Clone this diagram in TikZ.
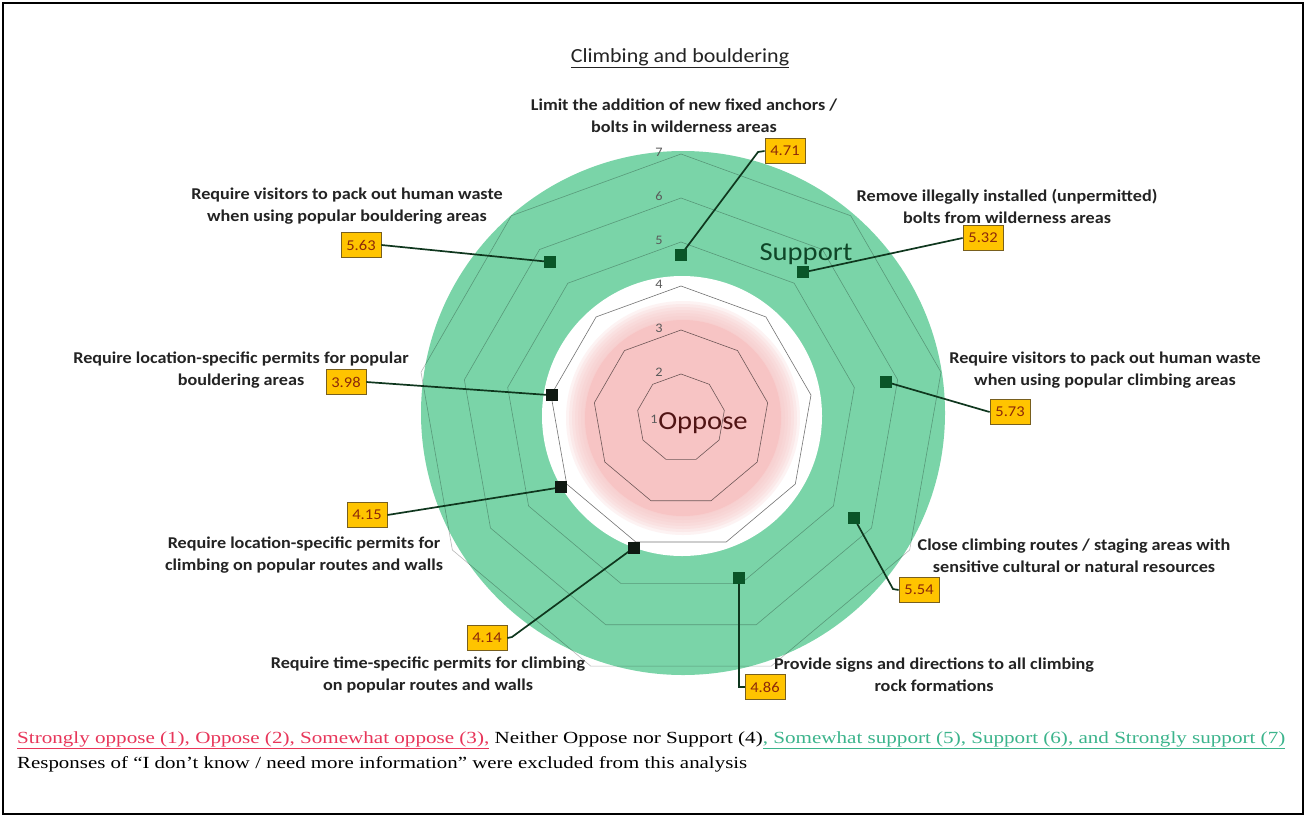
\documentclass[tikz,border=0pt]{standalone}
\usepackage{fontspec}
\usepackage{graphicx}
\setmainfont{Carlito}[FakeStretch=1.1]
\newfontfamily\tnr{Liberation Serif}
\definecolor{ringgreen}{RGB}{122,212,168}
\definecolor{pinkc}{RGB}{247,196,196}
\definecolor{mkgreen}{RGB}{10,85,40}
\definecolor{mkdark}{RGB}{15,25,18}
\definecolor{leadc}{RGB}{15,55,30}
\definecolor{boxy}{RGB}{255,196,0}
\definecolor{boxedge}{RGB}{120,95,30}
\definecolor{valtxt}{RGB}{140,40,10}
\definecolor{oppc}{RGB}{232,54,90}
\definecolor{supc}{RGB}{60,180,140}
\definecolor{oppt}{RGB}{80,20,20}
\definecolor{supt}{RGB}{15,70,40}
\definecolor{axlc}{RGB}{90,90,90}
\definecolor{lblc}{RGB}{35,35,35}
\begin{document}
\begin{tikzpicture}[x=1pt,y=-1pt,
  mk/.style={rectangle,minimum size=12pt,inner sep=0pt},
  vbox/.style={draw=boxedge,line width=0.8pt,fill=boxy,minimum width=40pt,minimum height=25pt,inner sep=1pt,text=valtxt,font=\fontsize{15}{15}\selectfont},
  lbl/.style={align=center,text=lblc,inner sep=0pt,font=\bfseries\fontsize{16.5}{22}\selectfont},
  leader/.style={draw=leadc,line width=1.7pt},
  gridl/.style={draw=black,draw opacity=0.55,line width=0.6pt},
  gridg/.style={draw=black,draw opacity=0.28,line width=0.6pt},
  axl/.style={text=axlc,inner sep=0pt,font=\fontsize{13}{13}\selectfont}]
\useasboundingbox (0,0) rectangle (1306,817);
\fill[white] (0,0) rectangle (1306,817);
\draw[line width=1.5pt] (3,3) rectangle (1303,814);
% rings
\fill[ringgreen] (683,413) circle (262pt);
\fill[white] (682,416) circle (140pt);
\foreach \r in {117,114,...,99}{\fill[pinkc,opacity=0.2] (683,418) circle (\r pt);}
\fill[pinkc] (683,418) circle (98pt);
% grid nonagons
\foreach \v/\s in {2/gridl,3/gridl,4/gridl,5/gridg,6/gridg,7/gridg}{
  \draw[\s] plot[samples at={90,50,10,-30,-70,-110,-150,-190,-230}]
    ({681+44*(\v-1)*cos(\x)},{418-44*(\v-1)*sin(\x)}) -- cycle;
}
\foreach \v in {2,...,7}{\node[axl] (ax\v) at (659,{416-44*(\v-1)}) {\v};}
\node[axl] (ax1) at (654,419) {1};
\node[text=oppt,inner sep=0pt,font=\fontsize{26}{26}\selectfont] (opp) at (703,423) {Oppose};
\node[text=supt,inner sep=0pt,font=\fontsize{26}{26}\selectfont] (sup) at (806,254) {Support};
% data points
\foreach \v/\a/\n in {4.71/90/1,5.32/50/2,5.73/10/3,5.54/-30/4,4.86/-70/5,4.14/-110/6,4.15/-150/7,3.98/-190/8,5.63/-230/9}{
  \coordinate (p\n) at ({681+44*(\v-1)*cos(\a)},{418-44*(\v-1)*sin(\a)});
}
% value boxes
\node[vbox] (b1) at (785,151) {4.71};
\node[vbox] (b2) at (983,238) {5.32};
\node[vbox] (b3) at (1010,412) {5.73};
\node[vbox] (b4) at (919,590) {5.54};
\node[vbox] (b5) at (765,687) {4.86};
\node[vbox] (b6) at (487,638) {4.14};
\node[vbox] (b7) at (367,515) {4.15};
\node[vbox] (b8) at (346,382) {3.98};
\node[vbox] (b9) at (361,245) {5.63};
% leaders
\coordinate (k1) at (758,152);
\coordinate (k4) at (893,589);
\coordinate (k6) at (512,637);
\draw[leader] (p1) -- (k1) -- (b1.west);
\draw[leader] (p2) -- (b2.west);
\draw[leader] (p3) -- (b3.west);
\draw[leader] (p4) -- (k4) -- (b4.west);
\draw[leader] (p5) -- (p5 |- b5.west) -- (b5.west);
\draw[leader] (p6) -- (k6) -- (b6.east);
\draw[leader] (p7) -- (b7.east);
\draw[leader] (p8) -- (b8.east);
\draw[leader] (p9) -- (b9.east);
% markers
\foreach \n/\c in {1/mkgreen,2/mkgreen,3/mkgreen,4/mkgreen,5/mkgreen,6/mkdark,7/mkdark,8/mkdark,9/mkgreen}{
  \node[mk,fill=\c] (m\n) at (p\n) {};
}
% labels
\node[lbl] (t1) at (684,116) {Limit the addition of new fixed anchors /\\bolts in wilderness areas};
\node[lbl] (t2) at (1007,206) {Remove illegally installed (unpermitted)\\bolts from wilderness areas};
\node[lbl] (t3) at (1105,370) {Require visitors to pack out human waste\\when using popular climbing areas};
\node[lbl] (t4) at (1074,556) {Close climbing routes / staging areas with\\sensitive cultural or natural resources};
\node[lbl] (t5) at (934,675) {Provide signs and directions to all climbing\\rock formations};
\node[lbl] (t6) at (428,675) {Require time-specific permits for climbing\\on popular routes and walls};
\node[lbl] (t7) at (304,555) {Require location-specific permits for\\climbing on popular routes and walls};
\node[lbl] (t8) at (241,370) {Require location-specific permits for popular\\bouldering areas};
\node[lbl] (t9) at (347,206) {Require visitors to pack out human waste\\when using popular bouldering areas};
% title
\node[text=lblc,inner sep=0pt,font=\fontsize{20}{20}\selectfont] (title) at (680,58) {\underline{Climbing and bouldering}};
% legend
\node[anchor=base west,inner sep=0pt] (leg1) at (17,743) {\resizebox{1268pt}{\height}{\tnr\fontsize{17}{17}\selectfont{\color{oppc}\underline{Strongly oppose (1), Oppose (2), Somewhat oppose (3),}} Neither Oppose nor Support (4){\color{supc}\underline{, Somewhat support (5), Support (6), and Strongly support (7)}}}};
\node[anchor=base west,inner sep=0pt] (leg2) at (17,768) {\resizebox{730pt}{\height}{\tnr\fontsize{17}{17}\selectfont Responses of “I don’t know / need more information” were excluded from this analysis}};
\end{tikzpicture}
\end{document}
